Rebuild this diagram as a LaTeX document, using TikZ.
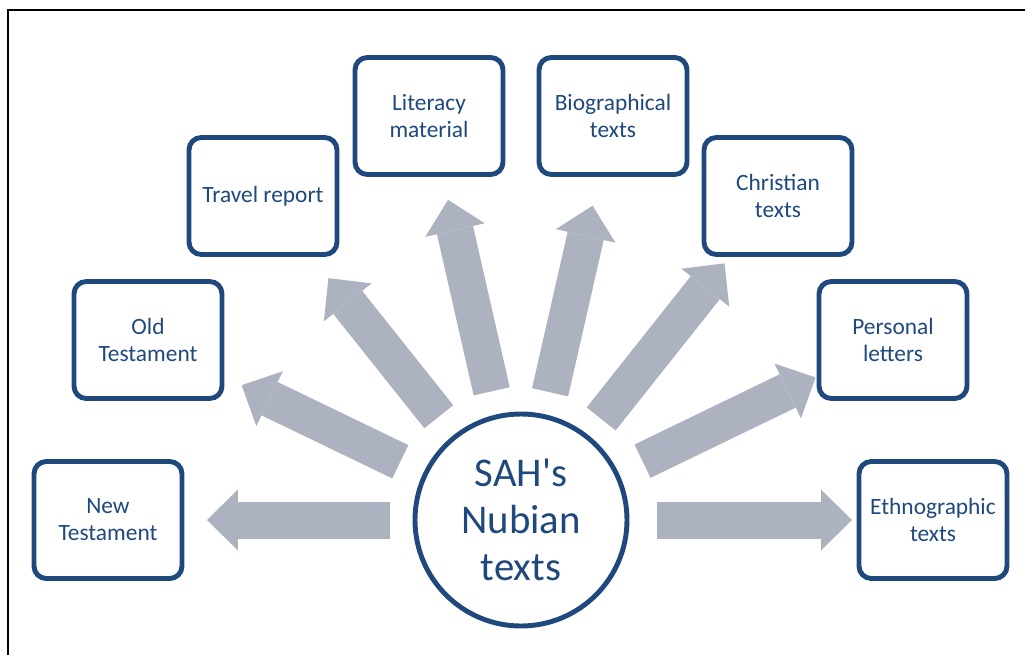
\documentclass[tikz,border=0pt]{standalone}
\usepackage{fontspec}
\setmainfont{Carlito}
\usetikzlibrary{arrows.meta}
\definecolor{nubblue}{RGB}{31, 73, 125}
\definecolor{arrowgrey}{RGB}{173, 178, 193}

\tikzset{
  textbox/.style={draw=nubblue, fill=white, line width=2.8pt, rounded corners=7pt, text=nubblue,
    minimum width=2.96cm, minimum height=2.34cm, align=center, inner sep=2pt,
    font=\fontsize{13.3}{15.3}\selectfont},
  hubnode/.style={circle, draw=nubblue, fill=white, line width=2.8pt, text=nubblue,
    minimum size=4.24cm, align=center, inner sep=0pt,
    font=\fontsize{23.2}{26.6}\selectfont},
  blockarrow/.style={draw=arrowgrey, line width=0.74cm,
    -{Triangle[width=1.22cm, length=0.62cm, line width=0pt]}}
}

\begin{document}
\begin{tikzpicture}
  \useasboundingbox (-10.42, -2.7) rectangle (10.08, 10.4);
  % Frame
  \draw[line width=0.04cm] (-10.26, -2.7) |- (10.08, 10.2);

  % Centre
  \node[hubnode] (hub) at (0, 0) {SAH\textquotesingle s\\Nubian\\texts};

  % Text types
  \node[textbox] (newt) at (-8.26, 0) {New\\Testament};
  \node[textbox] (oldt) at (-7.46, 3.6) {Old\\Testament};
  \node[textbox] (travel) at (-5.16, 6.48) {Travel report};
  \node[textbox] (literacy) at (-1.84, 8.08) {Literacy\\material};
  \node[textbox] (bio) at (1.84, 8.08) {Biographical\\texts};
  \node[textbox] (christian) at (5.14, 6.48) {Christian\\texts};
  \node[textbox] (letters) at (7.44, 3.6) {Personal\\letters};
  \node[textbox] (ethno) at (8.24, 0) {Ethnographic\\texts};

  % Arrows
  \draw[blockarrow, shorten <=2.62cm, shorten >=1.98cm] (hub.center) -- (newt.center);
  \draw[blockarrow, shorten <=2.68cm, shorten >=2.08cm] (hub.center) -- (oldt.center);
  \draw[blockarrow, shorten <=2.64cm, shorten >=2.10cm] (hub.center) -- (travel.center);
  \draw[blockarrow, shorten <=2.64cm, shorten >=1.72cm] (hub.center) -- (literacy.center);
  \draw[blockarrow, shorten <=2.62cm, shorten >=1.84cm] (hub.center) -- (bio.center);
  \draw[blockarrow, shorten <=2.58cm, shorten >=1.72cm] (hub.center) -- (christian.center);
  \draw[blockarrow, shorten <=2.70cm, shorten >=1.72cm] (hub.center) -- (letters.center);
  \draw[blockarrow, shorten <=2.72cm, shorten >=1.62cm] (hub.center) -- (ethno.center);
\end{tikzpicture}
\end{document}
